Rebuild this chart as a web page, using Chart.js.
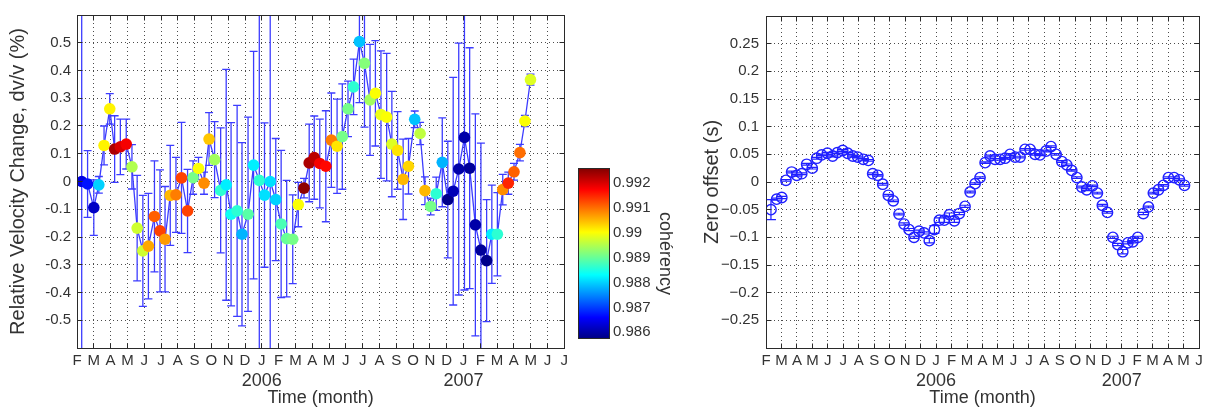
<!DOCTYPE html>
<html>
<head>
<meta charset="utf-8">
<script src="https://cdn.jsdelivr.net/npm/chart.js@4.4.0/dist/chart.umd.min.js"></script>
<style>
  html, body { margin: 0; padding: 0; background: #fff; }
  body { width: 1209px; height: 411px; position: relative; overflow: hidden; }
  .panel { position: absolute; top: 0; height: 411px; }
  #dvBox { left: 0; width: 572px; }
  #cbBox { left: 572px; width: 118px; }
  #zoBox { left: 690px; width: 519px; }
</style>
</head>
<body>
<div class="panel" id="dvBox"><canvas id="dvChart"></canvas></div>
<div class="panel" id="cbBox"><canvas id="cbChart"></canvas></div>
<div class="panel" id="zoBox"><canvas id="zoChart"></canvas></div>
<script>
// axis labels
const monthLabels = ['F','M','A','M','J','J','A','S','O','N','D','J','F','M','A','M','J','J','A','S','O','N','D','J','F','M','A','M','J','J'];
const yearLabels = ['2006', '2007'];
const yearPositions = [11, 23];   // month index of January
const dvTicks = [-0.5, -0.4, -0.3, -0.2, -0.1, 0, 0.1, 0.2, 0.3, 0.4, 0.5];
const zoTicks = [-0.25, -0.2, -0.15, -0.1, -0.05, 0, 0.05, 0.1, 0.15, 0.2, 0.25];
const cohTicks = [0.986, 0.987, 0.988, 0.989, 0.99, 0.991, 0.992];
const cohRange = [0.98573, 0.9926];

// dv/v series (time in months since 1 Feb 2005)
const dvMonths = [0.28,0.63,1.00,1.30,1.61,1.95,2.24,2.58,2.93,3.27,3.58,3.92,4.25,4.61,4.94,5.24,5.55,5.89,6.22,6.58,
  6.91,7.23,7.56,7.86,8.19,8.55,8.88,9.17,9.53,9.82,10.18,10.51,10.85,11.16,11.50,11.83,12.15,12.48,12.84,13.17,
  13.51,13.82,14.12,14.45,14.81,15.14,15.48,15.79,16.13,16.46,16.81,17.11,17.44,17.76,18.09,18.43,18.74,19.08,19.41,19.73,
  20.10,20.42,20.71,21.05,21.38,21.74,22.07,22.39,22.72,23.06,23.37,23.71,24.04,24.38,24.69,25.02,25.34,25.67,26.01,26.36,
  26.66,26.99];
const dvValues = [0,-0.009,-0.094,-0.012,0.13,0.262,0.117,0.125,0.135,0.053,-0.168,-0.25,-0.233,-0.126,-0.178,-0.208,-0.05,-0.048,0.013,-0.106,
  0.014,0.047,-0.006,0.153,0.079,-0.032,-0.012,-0.118,-0.106,-0.19,-0.118,0.059,0.004,-0.049,0,-0.065,-0.153,-0.206,-0.208,-0.083,
  -0.024,0.067,0.086,0.065,0.055,0.149,0.127,0.162,0.262,0.341,0.504,0.426,0.294,0.318,0.241,0.232,0.135,0.112,0.008,0.055,
  0.224,0.173,-0.033,-0.09,-0.044,0.069,-0.065,-0.035,0.045,0.159,0.048,-0.156,-0.247,-0.285,-0.19,-0.19,-0.029,-0.006,0.035,0.104,
  0.218,0.367];
const dvErrors = [0.75,0.12,0.10,0.03,0.07,0.055,0.12,0.10,0.09,0.08,0.19,0.2,0.19,0.2,0.22,0.19,0.18,0.135,0.2,0.15,
  0.06,0.04,0.04,0.095,0.137,0.225,0.416,0.33,0.38,0.33,0.35,0.41,0.75,0.26,0.8,0.22,0.265,0.21,0.16,0.08,
  0.035,0.14,0.15,0.16,0.2,0.17,0.17,0.19,0.1,0.1,0.22,0.23,0.2,0.19,0.23,0.23,0.19,0.14,0.145,0.1,
  0.03,0.04,0.05,0.03,0.06,0.16,0.21,0.41,0.454,0.55,0.434,0.4,0.385,0.22,0.177,0.15,0.055,0.04,0.03,0.03,
  0.02,0.02];
const dvCoherency = [0.9864,0.9867,0.9862,0.9880,0.9901,0.9901,0.9923,0.9920,0.9918,0.9895,0.9897,0.9897,0.9906,0.9911,0.9913,0.9907,0.9905,0.9909,0.9913,0.9913,
  0.9891,0.9900,0.9908,0.9904,0.9894,0.9886,0.9882,0.9884,0.9886,0.9878,0.9889,0.9882,0.9886,0.9881,0.9881,0.9880,0.9888,0.9890,0.9891,0.9900,
  0.9925,0.9923,0.9922,0.9918,0.9917,0.9909,0.9902,0.9891,0.9891,0.9886,0.9879,0.9892,0.9894,0.9900,0.9899,0.9900,0.9898,0.9902,0.9905,0.9903,
  0.9879,0.9896,0.9905,0.9891,0.9886,0.9878,0.9858,0.9861,0.9860,0.9860,0.9859,0.9860,0.9859,0.9858,0.9882,0.9886,0.9908,0.9915,0.9911,0.9910,
  0.9900,0.9898];

// zero offset series
const zoMonths = [0.32,0.69,1.02,1.29,1.66,1.99,2.31,2.63,2.99,3.28,3.60,3.97,4.31,4.61,4.96,5.28,5.61,5.93,6.29,6.62,
  6.90,7.23,7.55,7.91,8.23,8.60,8.93,9.25,9.57,9.90,10.22,10.56,10.89,11.21,11.53,11.86,12.18,12.50,12.87,13.20,
  13.52,13.84,14.17,14.49,14.81,15.14,15.46,15.78,16.11,16.43,16.75,17.08,17.40,17.72,18.11,18.43,18.76,19.13,19.45,19.77,
  20.10,20.42,20.74,21.11,21.43,21.75,22.08,22.43,22.75,23.07,23.40,23.72,24.04,24.40,24.73,25.05,25.38,25.70,26.02,26.39,
  26.73,27.06];
const zoValues = [-0.05,-0.031,-0.028,0.003,0.018,0.012,0.015,0.032,0.025,0.043,0.049,0.052,0.047,0.053,0.057,0.052,0.047,0.045,0.041,0.039,
  0.015,0.012,-0.004,-0.024,-0.034,-0.058,-0.076,-0.086,-0.1,-0.089,-0.092,-0.106,-0.086,-0.069,-0.069,-0.059,-0.07,-0.057,-0.044,-0.018,
  -0.003,0.008,0.035,0.047,0.041,0.041,0.043,0.05,0.045,0.045,0.059,0.059,0.05,0.049,0.056,0.064,0.05,0.037,0.031,0.021,
  0.008,-0.009,-0.014,-0.007,-0.02,-0.042,-0.055,-0.1,-0.113,-0.126,-0.11,-0.108,-0.1,-0.057,-0.045,-0.02,-0.014,-0.006,0.008,0.008,
  0.004,-0.006];
const zoErrors = [0.018,0.002,0.002,0.0015,0.0015,0.0015,0.0015,0.0015,0.0015,0.0015,0.0015,0.0015,0.0015,0.0015,0.0015,0.0015,0.0015,0.0015,0.0015,0.0015,
  0.0015,0.0015,0.0015,0.0015,0.0015,0.0015,0.002,0.002,0.002,0.002,0.002,0.004,0.007,0.004,0.004,0.003,0.003,0.002,0.002,0.0015,
  0.0015,0.0015,0.0015,0.0015,0.0015,0.0015,0.0015,0.0015,0.0015,0.0015,0.0015,0.0015,0.0015,0.0015,0.0015,0.0015,0.0015,0.0015,0.0015,0.0015,
  0.0015,0.0015,0.0015,0.0015,0.0015,0.0015,0.0015,0.002,0.002,0.004,0.002,0.002,0.002,0.002,0.0015,0.0015,0.0015,0.0015,0.0015,0.0015,
  0.0015,0.0015];

const textColor = '#333';
const gridColor = 'rgba(0,0,0,0.7)';
const frameColor = '#2a2a2a';
const lineBlue = '#3c3cff';
const markBlue = '#2020ff';

Chart.defaults.font.family = '"Liberation Sans", Arial, Helvetica, sans-serif';
Chart.defaults.color = textColor;

// matlab jet colormap
function jet(c) {
  const t = Math.min(1, Math.max(0, (c - cohRange[0]) / (cohRange[1] - cohRange[0])));
  const f = v => Math.round(255 * Math.min(1, Math.max(0, 1.5 - Math.abs(v))));
  return 'rgb(' + f(4 * t - 3) + ',' + f(4 * t - 2) + ',' + f(4 * t - 1) + ')';
}

function errorBarPlugin(xs, ys, errs, cap, color, width) {
  return {
    id: 'errorBars',
    beforeDatasetsDraw(chart) {
      const {ctx, chartArea: a, scales: {x, y}} = chart;
      ctx.save();
      ctx.beginPath();
      ctx.rect(a.left, a.top, a.right - a.left, a.bottom - a.top);
      ctx.clip();
      ctx.strokeStyle = color;
      ctx.lineWidth = width;
      ctx.beginPath();
      xs.forEach((m, i) => {
        const px = x.getPixelForValue(m);
        const top = y.getPixelForValue(ys[i] + errs[i]);
        const bot = y.getPixelForValue(ys[i] - errs[i]);
        ctx.moveTo(px, top); ctx.lineTo(px, bot);
        ctx.moveTo(px - cap, top); ctx.lineTo(px + cap, top);
        ctx.moveTo(px - cap, bot); ctx.lineTo(px + cap, bot);
      });
      ctx.stroke();
      ctx.restore();
    }
  };
}

// box around the axes with inward tick marks on all four sides
const framePlugin = {
  id: 'frame',
  afterDatasetsDraw(chart) {
    const {ctx, chartArea: a, scales: {x, y}} = chart;
    const al = p => Math.round(p - 0.5) + 0.5;
    const L = al(a.left), R = al(a.right), T = al(a.top), B = al(a.bottom);
    ctx.save();
    ctx.strokeStyle = frameColor;
    ctx.lineWidth = 1;
    ctx.strokeRect(L, T, R - L, B - T);
    ctx.beginPath();
    x.ticks.forEach(t => {
      const p = al(x.getPixelForValue(t.value));
      ctx.moveTo(p, B); ctx.lineTo(p, B - 5);
      ctx.moveTo(p, T); ctx.lineTo(p, T + 5);
    });
    y.ticks.forEach(t => {
      const p = al(y.getPixelForValue(t.value));
      ctx.moveTo(L, p); ctx.lineTo(L + 5, p);
      ctx.moveTo(R, p); ctx.lineTo(R - 5, p);
    });
    ctx.stroke();
    ctx.restore();
  }
};

function monthAxis(count) {
  return {
    type: 'linear', position: 'bottom', min: 0, max: count - 1,
    afterBuildTicks: s => { s.ticks = monthLabels.slice(0, count).map((_, i) => ({value: i})); },
    afterFit: s => { s.height = 22; },
    ticks: { autoSkip: false, maxRotation: 0, padding: 4, color: textColor, font: {size: 15},
      callback: v => monthLabels[v] },
    grid: { color: gridColor, drawTicks: false },
    border: { display: false, dash: [1, 3] }
  };
}

function yearAxis(count) {
  return {
    type: 'linear', position: 'bottom', min: 0, max: count - 1,
    afterBuildTicks: s => { s.ticks = yearPositions.map(v => ({value: v})); },
    afterFit: s => { s.height = 41; },
    ticks: { autoSkip: false, maxRotation: 0, padding: 0, color: textColor, font: {size: 18},
      callback: v => yearLabels[yearPositions.indexOf(v)] },
    grid: { display: false, drawTicks: false },
    border: { display: false },
    title: { display: true, text: 'Time (month)', color: textColor, font: {size: 18}, padding: {top: 0, bottom: 2} }
  };
}

function valueAxis(min, max, tickList, width, pad, titleText, titlePad, fmt) {
  return {
    type: 'linear', position: 'left', min: min, max: max,
    afterBuildTicks: s => { s.ticks = tickList.map(v => ({value: v})); },
    afterFit: s => { s.width = width; },
    ticks: { padding: pad, color: textColor, font: {size: 15}, callback: fmt },
    grid: { color: gridColor, drawTicks: false },
    border: { display: false, dash: [1, 3] },
    title: { display: true, text: titleText, color: textColor, font: {size: 20}, padding: {top: titlePad, bottom: 0} }
  };
}

const common = {
  responsive: true,
  maintainAspectRatio: false,
  animation: false,
  devicePixelRatio: 1,
  events: []
};

// dv/v chart
const dvPoints = dvMonths.map((m, i) => ({x: m, y: dvValues[i]}));
new Chart(document.getElementById('dvChart'), {
  type: 'scatter',
  data: {
    datasets: [{
      data: dvPoints,
      pointRadius: 5.8,
      pointBorderWidth: 0,
      pointBackgroundColor: dvCoherency.map(jet),
      showLine: false
    }, {
      data: dvPoints,
      showLine: true,
      borderColor: lineBlue,
      borderWidth: 1.3,
      pointRadius: 0
    }]
  },
  options: Object.assign({}, common, {
    layout: { padding: {top: 9, right: 4, bottom: 0, left: 0} },
    scales: {
      x: monthAxis(30),
      x2: yearAxis(30),
      y: valueAxis(-0.6, 0.6, dvTicks, 77, 6, 'Relative Velocity Change, dv/v (%)', 6,
        v => String(+v.toFixed(1)))
    },
    plugins: { legend: {display: false}, tooltip: {enabled: false} }
  }),
  plugins: [errorBarPlugin(dvMonths, dvValues, dvErrors, 4, lineBlue, 1.3), framePlugin]
});

// colour bar
const colorBarPlugin = {
  id: 'colorBar',
  beforeDatasetsDraw(chart) {
    const {ctx, chartArea: a} = chart;
    const g = ctx.createLinearGradient(0, a.bottom, 0, a.top);
    for (let i = 0; i <= 16; i++) {
      const t = i / 16;
      g.addColorStop(t, jet(cohRange[0] + t * (cohRange[1] - cohRange[0])));
    }
    ctx.save();
    ctx.fillStyle = g;
    ctx.fillRect(a.left, a.top, a.right - a.left, a.bottom - a.top);
    ctx.strokeStyle = frameColor;
    ctx.lineWidth = 1;
    ctx.strokeRect(Math.round(a.left) + 0.5, Math.round(a.top) + 0.5, Math.round(a.right - a.left) - 1, Math.round(a.bottom - a.top) - 1);
    ctx.restore();
  }
};
new Chart(document.getElementById('cbChart'), {
  type: 'scatter',
  data: { datasets: [] },
  options: Object.assign({}, common, {
    layout: { padding: {top: 168, right: 0, bottom: 72, left: 6} },
    scales: {
      x: { display: false, min: 0, max: 1 },
      y: {
        position: 'right', min: cohRange[0], max: cohRange[1],
        afterBuildTicks: s => { s.ticks = cohTicks.map(v => ({value: v})); },
        afterFit: s => { s.width = 80; },
        ticks: { padding: 3, color: textColor, font: {size: 15}, callback: v => String(+v.toFixed(3)) },
        grid: { display: false, drawTicks: false },
        border: { display: false },
        title: { display: true, text: 'cohérency', color: textColor, font: {size: 18}, padding: {top: 14, bottom: 0} }
      }
    },
    plugins: { legend: {display: false}, tooltip: {enabled: false} }
  }),
  plugins: [colorBarPlugin]
});

// zero offset chart
new Chart(document.getElementById('zoChart'), {
  type: 'scatter',
  data: {
    datasets: [{
      data: zoMonths.map((m, i) => ({x: m, y: zoValues[i]})),
      pointRadius: 5.2,
      pointStyle: 'circle',
      pointBorderWidth: 1.4,
      pointBorderColor: markBlue,
      pointBackgroundColor: 'rgba(0,0,0,0)',
      showLine: false
    }]
  },
  options: Object.assign({}, common, {
    layout: { padding: {top: 9, right: 10, bottom: 0, left: 0} },
    scales: {
      x: monthAxis(29),
      x2: yearAxis(29),
      y: valueAxis(-0.3, 0.3, zoTicks, 76, 7, 'Zero offset (s)', 10,
        v => { const s = String(+Math.abs(v).toFixed(2)); return v < -1e-9 ? '\u2212' + s : s; })
    },
    plugins: { legend: {display: false}, tooltip: {enabled: false} }
  }),
  plugins: [errorBarPlugin(zoMonths, zoValues, zoErrors, 5, markBlue, 1.2), framePlugin]
});
</script>
</body>
</html>
